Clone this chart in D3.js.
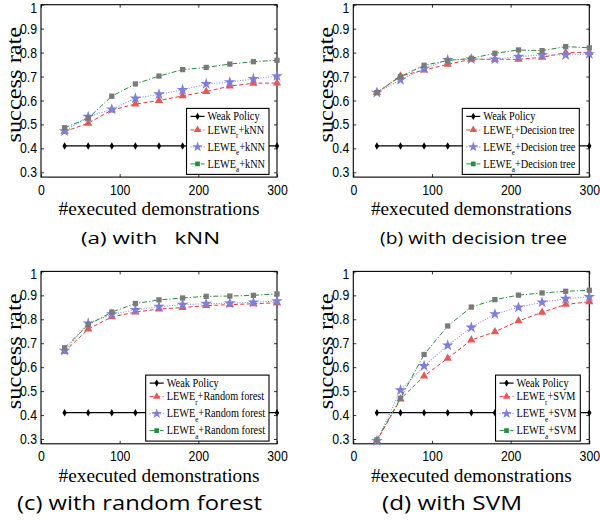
<!DOCTYPE html>
<html><head><meta charset="utf-8">
<script src="https://cdn.jsdelivr.net/npm/d3@7"></script>
<style>
html,body{margin:0;padding:0;background:#fff;}
svg{display:block;}
</style></head>
<body>
<svg id="chart" width="600" height="521"></svg>
<script>
// ---------- data ----------
const demos = [30, 60, 90, 120, 150, 180, 210, 240, 270, 300];
const weakPolicy = [0.41, 0.41, 0.41, 0.41, 0.41, 0.41, 0.41, 0.41, 0.41, 0.41];

const knnR = [0.470, 0.505, 0.560, 0.585, 0.600, 0.619, 0.637, 0.660, 0.672, 0.673];
const knnE = [0.472, 0.532, 0.563, 0.609, 0.626, 0.644, 0.669, 0.677, 0.690, 0.702];
const knnA = [0.486, 0.526, 0.618, 0.669, 0.702, 0.729, 0.738, 0.752, 0.762, 0.768];

const dtR = [0.633, 0.702, 0.727, 0.751, 0.772, 0.772, 0.772, 0.780, 0.800, 0.800];
const dtE = [0.633, 0.686, 0.733, 0.769, 0.773, 0.772, 0.783, 0.790, 0.790, 0.794];
const dtA = [0.633, 0.700, 0.747, 0.767, 0.776, 0.797, 0.811, 0.808, 0.825, 0.820];

const rfR = [0.665, 0.759, 0.810, 0.830, 0.843, 0.849, 0.857, 0.861, 0.865, 0.869];
const rfE = [0.669, 0.783, 0.821, 0.839, 0.853, 0.861, 0.865, 0.867, 0.871, 0.876];
const rfA = [0.681, 0.777, 0.830, 0.866, 0.881, 0.889, 0.896, 0.897, 0.900, 0.906];

const svmR = [0.292, 0.467, 0.563, 0.637, 0.713, 0.748, 0.793, 0.829, 0.862, 0.873];
const svmE = [0.292, 0.504, 0.605, 0.691, 0.766, 0.822, 0.850, 0.871, 0.886, 0.894];
const svmA = [0.296, 0.470, 0.653, 0.772, 0.851, 0.882, 0.901, 0.910, 0.917, 0.921];

const classifiers = ["kNN", "Decision tree", "Random forest", "SVM"];
const captions = ["(a) with   kNN", "(b) with decision tree", "(c) with random forest", "(d) with SVM"];
const xTicks = [0, 100, 200, 300];
const xTickLabels = ["0", "100", "200", "300"];
const yTicks = [0.3, 0.4, 0.5, 0.6, 0.7, 0.8, 0.9, 1.0];
const yTickLabels = ["0.3", "0.4", "0.5", "0.6", "0.7", "0.8", "0.9", "1"];
const xLabel = "#executed demonstrations";
const yLabel = "success rate";
const subscripts = ["r", "e", "a"];

// ---------- layout / style ----------
const panels = [
  {left: 41, top: 4.7, capL: 81, capW: 139, capS: 17, lr: 8, series: [knnR, knnE, knnA]},
  {left: 353.3, top: 4.7, capL: 380, capW: 187, capS: 17, lr: 10, series: [dtR, dtE, dtA]},
  {left: 41, top: 271.4, capL: 17, capW: 245, capS: 20, lr: 8, series: [rfR, rfE, rfA]},
  {left: 353.3, top: 271.4, capL: 382, capW: 140, capS: 20, lr: 9, series: [svmR, svmE, svmA]}
];
const W = 236, H = 172.4;
const SY = 1.15; // vertical stretch of the original figure text

const styles = [
  {stroke: "#e03c3c", dash: "4,2.5", width: 1, sym: d3.symbolTriangle, size: 30, fill: "#e05a5a", lfill: "#e05a5a"},
  {stroke: "#8c8cf0", dash: "1,1.6", width: 1.1, sym: d3.symbolStar, size: 42, fill: "#7e7edc", lfill: "#7e7edc"},
  {stroke: "#2a8c3c", dash: "5,2,1.2,2", width: 1, sym: d3.symbolSquare, size: 28, fill: "#7a7a7a", lfill: "#2a8c3c"}
];

const svg = d3.select("#chart");
const x = d3.scaleLinear().domain([0, 300]).range([0, W]);
const y = d3.scaleLinear().domain([0.28, 1]).range([H, 0]);
const serif = "'Liberation Serif', 'Times New Roman', serif";
const sans = "'Liberation Sans', Arial, sans-serif";

panels.forEach((p, pi) => {
  const g = svg.append("g").attr("transform", `translate(${p.left},${p.top})`);

  // axes with inward ticks
  const ax = g.append("g").attr("transform", `translate(0,${H})`)
    .call(d3.axisBottom(x).tickValues(xTicks).tickSizeInner(-3).tickSizeOuter(0).tickPadding(6.6)
      .tickFormat((d, i) => xTickLabels[i]));
  const ay = g.append("g")
    .call(d3.axisLeft(y).tickValues(yTicks).tickSizeInner(-3).tickSizeOuter(0).tickPadding(4)
      .tickFormat((d, i) => yTickLabels[i]));
  const at = g.append("g")
    .call(d3.axisTop(x).tickValues(xTicks).tickSizeInner(-3).tickSizeOuter(0).tickFormat(""));
  const ar = g.append("g").attr("transform", `translate(${W},0)`)
    .call(d3.axisRight(y).tickValues(yTicks).tickSizeInner(-3).tickSizeOuter(0).tickFormat(""));
  [ax, ay, at, ar].forEach(a => {
    a.select(".domain").remove();
    a.selectAll("line").attr("stroke", "#000").attr("stroke-width", 0.8);
  });
  [ax, ay].forEach(a => {
    a.selectAll("text").attr("fill", "#000").style("font-family", sans).style("font-size", "12.3px")
      .attr("transform", `scale(1,${SY})`);
  });
  // top label "1" sits slightly lower, as in the original
  ay.selectAll(".tick").filter(d => d === 1).select("text").attr("dy", "0.52em");

  g.append("rect").attr("x", 0).attr("y", 0).attr("width", W).attr("height", H)
    .attr("fill", "none").attr("stroke", "#000").attr("stroke-width", 1.1);

  const line = d3.line().x((d, i) => x(demos[i])).y(d => y(d));

  // weak policy
  g.append("path").datum(weakPolicy).attr("d", line).attr("fill", "none").attr("stroke", "#000").attr("stroke-width", 1.2);
  g.selectAll(".wk").data(weakPolicy).enter().append("path")
    .attr("transform", (d, i) => `translate(${x(demos[i])},${y(d)})`)
    .attr("d", d3.symbol(d3.symbolDiamond, 16)()).attr("fill", "#000");

  p.series.forEach((s, si) => {
    const st = styles[si];
    g.append("path").datum(s).attr("d", line).attr("fill", "none")
      .attr("stroke", st.stroke).attr("stroke-width", st.width).attr("stroke-dasharray", st.dash);
    g.selectAll(".m" + si).data(s).enter().append("path")
      .attr("transform", (d, i) => `translate(${x(demos[i])},${y(d)})`)
      .attr("d", d3.symbol(st.sym, st.size)()).attr("fill", st.fill);
  });

  // axis labels
  g.append("text").attr("x", W / 2).attr("y", 210.4).attr("text-anchor", "middle")
    .style("font-family", serif).style("font-size", "19.3px")
    .text(xLabel);
  g.append("text").attr("transform", `translate(-20.5,${80}) rotate(-90) scale(1.22,1)`)
    .attr("text-anchor", "middle")
    .style("font-family", serif).style("font-size", "20px")
    .text(yLabel);

  // legend
  const leg = g.append("g");
  const rows = [0, 1, 2, 3];
  const rowY = [8, 21.5, 38.5, 55.5];
  const texts = [];
  const lt = leg.append("g");
  rows.forEach(r => {
    const t = lt.append("text").attr("transform", `translate(21,${rowY[r] + 3.6}) scale(1,1.2)`)
      .style("font-family", serif).style("font-size", "10.3px");
    if (r === 0) t.text("Weak Policy");
    else {
      t.append("tspan").text("LEWE");
      t.append("tspan").attr("dy", 3.8).style("font-size", "7px").text(subscripts[r - 1]);
      t.append("tspan").attr("dy", -3.8).text("+" + classifiers[pi]);
    }
    texts.push(t);
  });
  const tw = d3.max(texts, t => t.node().getComputedTextLength());
  const LW = 21 + tw + 4, LH = 66;
  leg.insert("rect", ":first-child").attr("width", LW).attr("height", LH)
    .attr("fill", "#fff").attr("stroke", "#000").attr("stroke-width", 1.1);
  // samples
  leg.append("line").attr("x1", 4).attr("x2", 18).attr("y1", rowY[0]).attr("y2", rowY[0]).attr("stroke", "#000").attr("stroke-width", 1.2);
  leg.append("path").attr("transform", `translate(11,${rowY[0]})`).attr("d", d3.symbol(d3.symbolDiamond, 16)()).attr("fill", "#000");
  styles.forEach((st, si) => {
    const yy = rowY[si + 1];
    leg.append("line").attr("x1", 4).attr("x2", 18).attr("y1", yy).attr("y2", yy)
      .attr("stroke", st.stroke).attr("stroke-width", st.width).attr("stroke-dasharray", st.dash);
    leg.append("path").attr("transform", `translate(11,${yy})`).attr("d", d3.symbol(st.sym, st.size * 0.8)()).attr("fill", st.lfill);
  });
  leg.attr("transform", `translate(${W - p.lr - LW},${H - 2.7 - LH})`);

  // caption
  svg.append("text").attr("x", p.capL).attr("y", p.top + 238.8)
    .attr("xml:space", "preserve").style("white-space", "pre")
    .attr("textLength", p.capW).attr("lengthAdjust", "spacingAndGlyphs")
    .style("font-family", "'Open Sans', sans-serif").style("font-size", p.capS + "px")
    .text(captions[pi]);
});
</script>
</body></html>
